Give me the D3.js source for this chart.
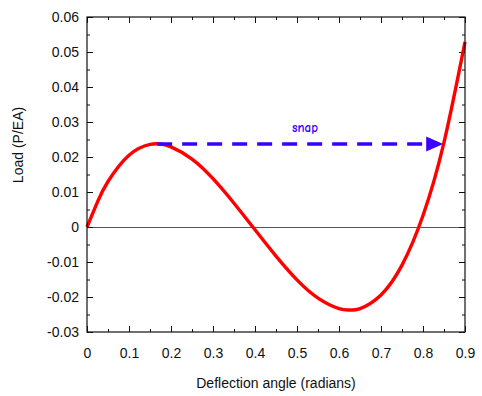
<!DOCTYPE html>
<html>
<head>
<meta charset="utf-8">
<script src="https://cdn.jsdelivr.net/npm/d3@7"></script>
<style>
  body { margin: 0; background: #fff; }
  svg { display: block; font-family: "Liberation Sans", Arial, Helvetica, sans-serif; }
  .axis text { font-size: 14px; fill: #111; }
  .axis path { display: none; }
  .axis line { stroke: #111; stroke-width: 1; }
</style>
</head>
<body>
<script>
//deflection angle (radians) and load (P/EA)
var angles = [0, 0.025, 0.05, 0.1, 0.15, 0.175, 0.2, 0.25, 0.3, 0.35, 0.4, 0.45, 0.5, 0.55, 0.6, 0.625, 0.65, 0.7, 0.75, 0.8, 0.85, 0.9];
var loads = [0, 0.0072, 0.0130, 0.0205, 0.0236, 0.0237, 0.0229, 0.0194, 0.0138, 0.0068, -0.0008, -0.0083, -0.0151, -0.0203, -0.0233, -0.0237, -0.0233, -0.0194, -0.0109, 0.0033, 0.0242, 0.0529];

//snap arrow: from the load peak across to the rising branch
var snapX = [0.167, 0.848];
var snapY = [0.0237, 0.0237];
var snapLabel = "snap";

//tick values and labels
var xTicks = [0, 0.1, 0.2, 0.3, 0.4, 0.5, 0.6, 0.7, 0.8, 0.9];
var xTickLabels = ["0", "0.1", "0.2", "0.3", "0.4", "0.5", "0.6", "0.7", "0.8", "0.9"];
var xMinorTicks = [0.05, 0.15, 0.25, 0.35, 0.45, 0.55, 0.65, 0.75, 0.85];
var yTicks = [-0.03, -0.02, -0.01, 0, 0.01, 0.02, 0.03, 0.04, 0.05, 0.06];
var yTickLabels = ["-0.03", "-0.02", "-0.01", "0", "0.01", "0.02", "0.03", "0.04", "0.05", "0.06"];
var yMinorTicks = [-0.025, -0.015, -0.005, 0.005, 0.015, 0.025, 0.035, 0.045, 0.055];

var width = 482,
    height = 396,
    margin = {top: 17, right: 17, bottom: 64, left: 87};

var svg = d3.select("body")
    .append("svg")
    .attr("width", width)
    .attr("height", height);

var x = d3.scaleLinear()
    .domain([0, 0.9])
    .range([margin.left, width - margin.right]);

var y = d3.scaleLinear()
    .domain([-0.03, 0.06])
    .range([height - margin.bottom, margin.top]);

//zero line
svg.append("line")
    .attr("x1", x(0))
    .attr("x2", x(0.9))
    .attr("y1", Math.round(y(0)) + 0.5)
    .attr("y2", Math.round(y(0)) + 0.5)
    .attr("stroke", "#555")
    .attr("stroke-width", 1);

//inward ticks on all four sides
function addAxis(axis, tx, ty) {
    svg.append("g")
        .attr("class", "axis")
        .attr("transform", "translate(" + tx + "," + ty + ")")
        .call(axis);
}

addAxis(d3.axisBottom(x).tickValues(xTicks).tickSize(-6).tickPadding(16)
    .tickFormat(function (d, i) { return xTickLabels[i]; }), 0, y(-0.03));
addAxis(d3.axisBottom(x).tickValues(xMinorTicks).tickSize(-3).tickFormat(""), 0, y(-0.03));
addAxis(d3.axisTop(x).tickValues(xTicks).tickSize(-6).tickFormat(""), 0, y(0.06));
addAxis(d3.axisTop(x).tickValues(xMinorTicks).tickSize(-3).tickFormat(""), 0, y(0.06));

addAxis(d3.axisLeft(y).tickValues(yTicks).tickSize(-6).tickPadding(8)
    .tickFormat(function (d, i) { return yTickLabels[i]; }), x(0), 0);
addAxis(d3.axisLeft(y).tickValues(yMinorTicks).tickSize(-3).tickFormat(""), x(0), 0);
addAxis(d3.axisRight(y).tickValues(yTicks).tickSize(-6).tickFormat(""), x(0.9), 0);
addAxis(d3.axisRight(y).tickValues(yMinorTicks).tickSize(-3).tickFormat(""), x(0.9), 0);

//the load curve
var line = d3.line()
    .x(function (d, i) { return x(angles[i]); })
    .y(function (d) { return y(d); })
    .curve(d3.curveNatural);

svg.append("path")
    .attr("d", line(loads))
    .attr("fill", "none")
    .attr("stroke", "#ff0000")
    .attr("stroke-width", 3.4);

//snap arrow
var headLen = 17, headHalf = 7.5;
var ax0 = x(snapX[0]), ax1 = x(snapX[1]), ay = y(snapY[0]);

svg.append("line")
    .attr("x1", ax0)
    .attr("x2", ax1 - headLen + 2)
    .attr("y1", ay)
    .attr("y2", ay)
    .attr("stroke", "#3a00ff")
    .attr("stroke-width", 3.6)
    .attr("stroke-dasharray", "15,10");

svg.append("path")
    .attr("d", "M" + ax1 + "," + ay +
        "L" + (ax1 - headLen) + "," + (ay - headHalf) +
        "L" + (ax1 - headLen) + "," + (ay + headHalf) + "Z")
    .attr("fill", "#3a00ff");

svg.append("text")
    .attr("x", x(0.519))
    .attr("y", ay - 12)
    .attr("text-anchor", "middle")
    .style("font-family", "'Comic Sans MS', 'Comic Neue', 'DejaVu Sans', sans-serif")
    .style("font-size", "13px")
    .style("font-weight", "bold")
    .style("fill", "#3a00ff")
    .text(snapLabel);

//frame
svg.append("rect")
    .attr("x", x(0))
    .attr("y", y(0.06))
    .attr("width", x(0.9) - x(0))
    .attr("height", y(-0.03) - y(0.06))
    .attr("fill", "none")
    .attr("stroke", "#111")
    .attr("stroke-width", 1.2);

//axis titles
svg.append("text")
    .attr("x", (x(0) + x(0.9)) / 2)
    .attr("y", 388)
    .attr("text-anchor", "middle")
    .style("font-size", "14px")
    .style("fill", "#111")
    .text("Deflection angle (radians)");

svg.append("text")
    .attr("transform", "translate(23,145) rotate(-90)")
    .attr("text-anchor", "middle")
    .style("font-size", "14px")
    .style("fill", "#111")
    .text("Load (P/EA)");
</script>
</body>
</html>
